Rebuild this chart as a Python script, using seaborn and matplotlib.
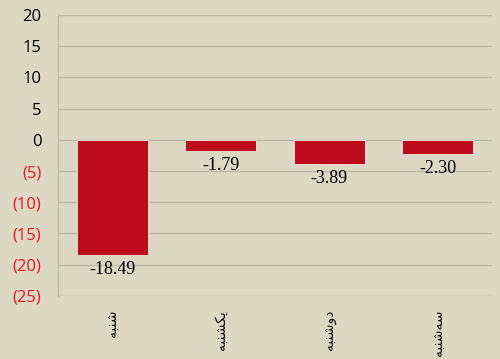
import numpy as np
import pandas as pd
import seaborn as sns
import matplotlib.pyplot as plt

# Persian weekday names (shaped presentation forms, visual order, since matplotlib does no shaping)
days = ["\uFEEA\uFE92\uFEE8\uFEB7",                      # شنبه
        "\uFEEA\uFE92\uFEE8\uFEB8\uFB91\uFBFE",          # یکشنبه
        "\uFEEA\uFE92\uFEE8\uFEB7\uFEED\uFEA9",          # دوشنبه
        "\uFEEA\uFE92\uFEE8\uFEB7\uFEEA\uFEB3"]          # سه‌شنبه
values = [-18.49, -1.79, -3.89, -2.30]
y_ticks = [20, 15, 10, 5, 0, -5, -10, -15, -20, -25]
y_tick_labels = ["20", "15", "10", "5", "0", "(5)", "(10)", "(15)", "(20)", "(25)"]

BG = "#ddd8c3"
BAR = "#be0a1e"
GRID = "#bcb7a9"

sns.set_theme(style="white")
plt.rcParams['font.family'] = ['Open Sans', 'DejaVu Sans']

df = pd.DataFrame({"day": days, "value": values})

fig = plt.figure(figsize=(5, 3.59), dpi=100, facecolor=BG)
ax = fig.add_axes([0.116, 0.176, 0.868, 0.782])
ax.set_facecolor(BG)

sns.barplot(data=df, x="day", y="value", color=BAR, width=0.65, saturation=1,
            edgecolor="#efe9d8", linewidth=0.6, ax=ax, zorder=3)

ax.set_ylim(-25, 20)
ax.set_xlim(-0.5, 3.5)
ax.set_yticks(y_ticks)
ax.set_yticklabels(y_tick_labels, fontsize=12)
for lbl, v in zip(ax.get_yticklabels(), y_ticks):
    lbl.set_color("#e8141e" if v < 0 else "black")
ax.tick_params(axis="y", length=0, pad=12)
ax.tick_params(axis="x", length=0, pad=10)
ax.set_xticks(range(len(days)))
ax.set_xticklabels(days, rotation=90, fontsize=10, family=['DejaVu Sans'], color="#111111")
ax.set_xlabel("")
ax.set_ylabel("")

ax.grid(axis="y", color=GRID, linewidth=1, zorder=0)
for s in ["top", "right", "bottom"]:
    ax.spines[s].set_visible(False)
ax.spines["left"].set_color(GRID)
ax.spines["left"].set_linewidth(1)

for i, v in enumerate(values):
    ax.annotate(f"{v:.2f}", (i, v), xytext=(0, -4), textcoords="offset points",
                ha="center", va="top", fontsize=13, family="Liberation Serif", color="black")

fig.savefig("out.png", dpi=100, facecolor=BG)
